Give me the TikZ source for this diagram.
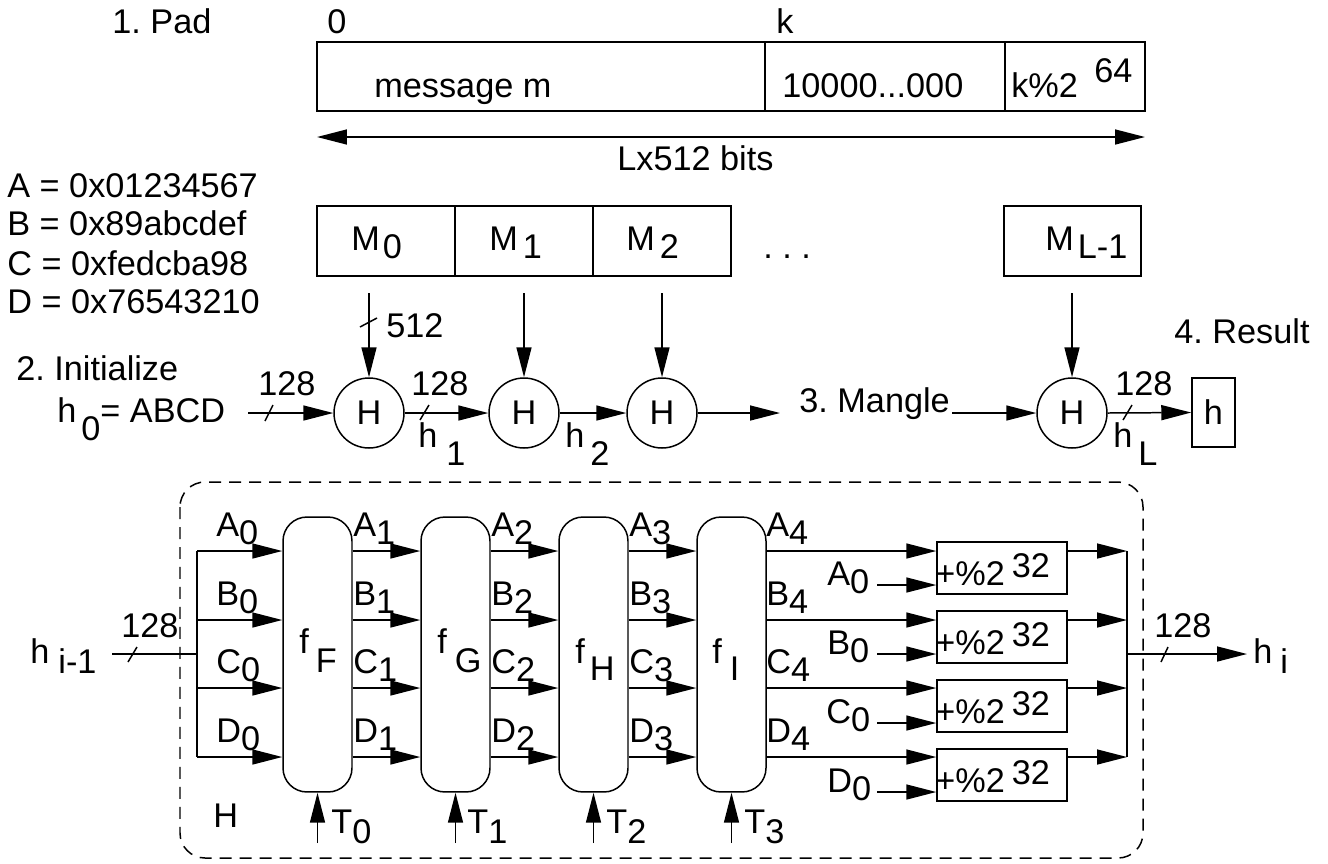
\documentclass[tikz,border=0pt]{standalone}
\usepackage{fontspec}
\setmainfont{Liberation Sans}
\usetikzlibrary{arrows.meta,calc}
\tikzset{
 txt/.style={anchor=base west, inner sep=0pt, font=\fontsize{19.5pt}{23pt}\selectfont},
 box/.style={draw, inner sep=0pt, line width=0.85pt},
 ln/.style={line width=0.85pt},
 arr/.style={line width=0.85pt, -{Triangle[length=0.6cm,width=0.3cm]}},
 arrtwo/.style={line width=0.85pt, {Triangle[length=0.6cm,width=0.3cm]}-{Triangle[length=0.6cm,width=0.3cm]}},
 hc/.style={draw, circle, minimum size=1.4cm, inner sep=0pt, line width=0.85pt, font=\fontsize{19.5pt}{23pt}\selectfont},
 fbox/.style={draw, rounded corners=0.48cm, minimum width=1.38cm, minimum height=5.5cm, inner sep=0pt, line width=0.85pt},
 addbox/.style={draw, minimum width=2.6cm, minimum height=1.04cm, inner sep=0pt, line width=0.85pt},
 tick/.style={line width=0.85pt},
}
\newcommand{\dn}[2]{\raisebox{-#1}{#2}}
\frenchspacing
\begin{document}
\frenchspacing
\begin{tikzpicture}[x=0.02cm,y=-0.02cm]
\useasboundingbox (0,0) rectangle (1328,863);

% ---------- 1. Pad ----------
\node[txt] (lpad) at (112,33) {1. Pad};
\node[txt] (lzero) at (327,33) {0};
\node[txt] (lk) at (776,33) {k};
\node[box, minimum width=8.96cm, minimum height=1.38cm] (msg) at (541,76.5) {};
\node[box, minimum width=4.8cm, minimum height=1.38cm] (pad) at (885,76.5) {};
\node[box, minimum width=2.8cm, minimum height=1.38cm] (len) at (1075,76.5) {};
\node[txt] (lmsg) at (374,97) {message m};
\node[txt] (lpadbits) at (782,97) {10000...000};
\node[txt] (llen) at (1011,97) {k\%2};
\node[txt] (llenexp) at (1094,82) {64};
\coordinate (lenL) at (317,137);
\coordinate (lenR) at (1145,137);
\draw[arrtwo] (lenL) -- (lenR);
\node[txt] (lbits) at (617,170) {Lx512 bits};

% ---------- constants ----------
\node[txt] (cA) at (7,197) {A = 0x01234567};
\node[txt] (cB) at (7,235) {B = 0x89abcdef};
\node[txt] (cC) at (7,275) {C = 0xfedcba98};
\node[txt] (cD) at (7,313) {D = 0x76543210};

% ---------- message blocks ----------
\node[box, minimum width=2.76cm, minimum height=1.4cm] (M0) at (386,241) {};
\node[box, minimum width=2.76cm, minimum height=1.4cm] (M1) at (524,241) {};
\node[box, minimum width=2.76cm, minimum height=1.4cm] (M2) at (662,241) {};
\node[box, minimum width=2.74cm, minimum height=1.4cm] (ML) at (1072.5,241) {};
\node[txt] (lM0) at (351,250) {M\kern0.06cm\dn{0.16cm}{0}};
\node[txt] (lM1) at (489,250) {M\kern0.1cm\dn{0.16cm}{1}};
\node[txt] (lM2) at (626,250) {M\kern0.1cm\dn{0.16cm}{2}};
\node[txt] (lML) at (1045,250) {M\kern0.08cm\dn{0.16cm}{L-1}};
\node[txt] (ldots) at (763,258) {.\ .\ .};

% ---------- 2. Initialize / chain ----------
\node[txt] (linit) at (16,380) {2. Initialize};
\node[txt] (lh0) at (57,422) {h\kern0.1cm\dn{0.36cm}{0}= ABCD};
\node[hc] (H0) at (369,413) {H};
\node[hc] (H1) at (524,413) {H};
\node[hc] (H2) at (662,413) {H};
\node[hc] (H3) at (1072,413) {H};
\node[box, minimum width=0.86cm, minimum height=1.38cm, font=\fontsize{19.5pt}{23pt}\selectfont] (hb) at (1213.5,412.5) {h};

\coordinate (m0) at (369,293);
\coordinate (m1) at (524,293);
\coordinate (m2) at (662,293);
\coordinate (mL) at (1072,293);
\draw[arr] (m0) -- (H0.north);
\draw[arr] (m1) -- (H1.north);
\draw[arr] (m2) -- (H2.north);
\draw[arr] (mL) -- (H3.north);
\draw[tick] (360,327) -- (377,318);
\node[txt] (l512) at (386,337) {512};

\coordinate (h0s) at (248,413);
\draw[arr] (h0s) -- (H0.west);
\draw[tick] (265,421) -- (273,405);
\node[txt] (l128a) at (258,395) {128};
\draw[arr] (H0.east) -- (H1.west);
\draw[tick] (420,420) -- (429,405);
\node[txt] (l128b) at (411,395) {128};
\node[txt] (lh1) at (418,447) {h\kern0.18cm\dn{0.36cm}{1}};
\draw[arr] (H1.east) -- (H2.west);
\node[txt] (lh2) at (565,447) {h\kern0.12cm\dn{0.36cm}{2}};
\coordinate (h2e) at (780,413);
\draw[arr] (H2.east) -- (h2e);
\node[txt] (lmangle) at (799,412) {3. Mangle};
\coordinate (mg) at (952,413);
\draw[arr] (mg) -- (H3.west);
\draw[arr] (H3.east) -- (hb.west);
\draw[tick] (1123,420) -- (1132,405);
\node[txt] (l128c) at (1115,395) {128};
\node[txt] (lhL) at (1113,447) {h\kern0.12cm\dn{0.36cm}{L}};
\node[txt] (lres) at (1174,343) {4. Result};

% ---------- H function ----------
\draw[ln, dash pattern=on 0.24cm off 0.16cm, rounded corners=0.5cm] (180,482) rectangle (1143,858);
\node[txt] (lHf) at (213,827) {H};

\node[fbox] (fF) at (317.5,654.5) {};
\node[fbox] (fG) at (455.5,654.5) {};
\node[fbox] (fH) at (593.5,654.5) {};
\node[fbox] (fI) at (731.5,654.5) {};
\node[txt] (lfF) at (299,653) {f\kern0.14cm\dn{0.38cm}{F}};
\node[txt] (lfG) at (437,653) {f\kern0.16cm\dn{0.38cm}{G}};
\node[txt] (lfH) at (575,663) {f\kern0.1cm\dn{0.34cm}{H}};
\node[txt] (lfI) at (712,663) {f\kern0.16cm\dn{0.34cm}{I}};

\node[addbox] (ad1) at (1002,568) {};
\node[addbox] (ad2) at (1002,637) {};
\node[addbox] (ad3) at (1002,706) {};
\node[addbox] (ad4) at (1002,775) {};
\node[txt] (lad1) at (935,585) {+\%2\kern0.14cm\raisebox{0.16cm}{32}};
\node[txt] (lad2) at (935,654) {+\%2\kern0.14cm\raisebox{0.16cm}{32}};
\node[txt] (lad3) at (935,723) {+\%2\kern0.14cm\raisebox{0.16cm}{32}};
\node[txt] (lad4) at (935,792) {+\%2\kern0.14cm\raisebox{0.16cm}{32}};

\coordinate (hin) at (112,654);
\coordinate (rA) at (197,551);
\coordinate (rB) at (197,620);
\coordinate (rC) at (197,688);
\coordinate (rD) at (197,757);
\draw[ln] (hin) -- (hin -| rA);
\draw[tick] (128,662) -- (137,647);
\node[txt] (l128d) at (121,637) {128};
\node[txt] (lhim) at (30,663) {h\kern0.18cm\dn{0.2cm}{i-1}};
\draw[ln] (rA) -- (rD);
\foreach \r in {rA,rB,rC,rD} {
  \draw[arr] (\r) -- (\r -| fF.west);
  \draw[arr] (\r -| fF.east) -- (\r -| fG.west);
  \draw[arr] (\r -| fG.east) -- (\r -| fH.west);
  \draw[arr] (\r -| fH.east) -- (\r -| fI.west);
  \draw[arr] (\r -| fI.east) -- (\r -| ad1.west);
}
% row labels
\foreach \n/\x/\s in {0/216/0,1/353/1,2/491/2,3/629/3,4/766/4} {
  \node[txt] (lA\n) at (\x,536) {A\dn{0.16cm}{\s}};
  \node[txt] (lB\n) at (\x,605) {B\dn{0.16cm}{\s}};
  \node[txt] (lC\n) at (\x,673) {C\dn{0.16cm}{\s}};
  \node[txt] (lD\n) at (\x,742) {D\dn{0.16cm}{\s}};
}
% initial values into adders
\coordinate (iA) at (877,585);
\coordinate (iB) at (877,654);
\coordinate (iC) at (877,723);
\coordinate (iD) at (877,792);
\draw[arr] (iA) -- (iA -| ad1.west);
\draw[arr] (iB) -- (iB -| ad1.west);
\draw[arr] (iC) -- (iC -| ad1.west);
\draw[arr] (iD) -- (iD -| ad1.west);
\node[txt] (liA) at (827,585) {A\dn{0.16cm}{0}};
\node[txt] (liB) at (827,654) {B\dn{0.16cm}{0}};
\node[txt] (liC) at (826,723) {C\dn{0.16cm}{0}};
\node[txt] (liD) at (827,792) {D\dn{0.16cm}{0}};

% outputs
\coordinate (cR) at (1127,654);
\foreach \r in {rA,rB,rC,rD} {
  \draw[arr] (\r -| ad1.east) -- (\r -| cR);
}
\draw[ln] (rA -| cR) -- (rD -| cR);
\coordinate (hout) at (1247,654);
\draw[arr] (cR) -- (hout);
\draw[tick] (1161,662) -- (1168,647);
\node[txt] (l128e) at (1154,637) {128};
\node[txt] (lhi) at (1253,663) {h\kern0.16cm\dn{0.2cm}{i}};

% T inputs
\coordinate (t0) at (317.5,843);
\coordinate (t1) at (455.5,843);
\coordinate (t2) at (593.5,843);
\coordinate (t3) at (731.5,843);
\draw[arr] (t0) -- (fF.south);
\draw[arr] (t1) -- (fG.south);
\draw[arr] (t2) -- (fH.south);
\draw[arr] (t3) -- (fI.south);
\node[txt] (lT0) at (331,833) {T\dn{0.2cm}{0}};
\node[txt] (lT1) at (467,833) {T\dn{0.2cm}{1}};
\node[txt] (lT2) at (606,833) {T\dn{0.2cm}{2}};
\node[txt] (lT3) at (744,833) {T\dn{0.2cm}{3}};
\end{tikzpicture}
\end{document}
